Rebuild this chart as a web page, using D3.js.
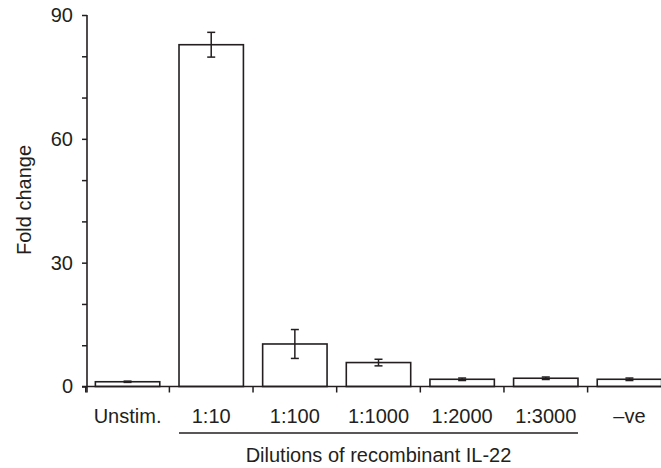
<!DOCTYPE html>
<html>
<head>
<meta charset="utf-8">
<script src="https://cdn.jsdelivr.net/npm/d3@7"></script>
<style>
  body { margin: 0; background: #fff; }
  svg { display: block; font-family: "Liberation Sans", Arial, Helvetica, sans-serif; }
</style>
</head>
<body>
<svg id="chart" width="661" height="468"></svg>
<script>
// Data
const categories = ['Unstim.', '1:10', '1:100', '1:1000', '1:2000', '1:3000', '\u2013ve'];
const foldChange = [1.15, 82.8, 10.3, 5.8, 1.75, 2.0, 1.75];
const errors = [0.15, 3.0, 3.5, 0.8, 0.3, 0.3, 0.3];
const yTicks = [0, 10, 20, 30, 40, 50, 60, 70, 80, 90];
const yLabelTicks = [0, 30, 60, 90];
const groupedCats = ['1:10', '1:3000'];

const WIDTH = 661, HEIGHT = 468;
const MARGIN = { left: 87, top: 15, bottom: 81.5, right: -9 };
const INK = '#231f20';
const FONT = 20;

const svg = d3.select('#chart');

// Scales
const xScale = d3.scaleBand()
  .domain(categories)
  .range([MARGIN.left, WIDTH - MARGIN.right])
  .paddingInner(0.23)
  .paddingOuter(0.1);

const yScale = d3.scaleLinear()
  .domain([0, 90])
  .range([HEIGHT - MARGIN.bottom, MARGIN.top]);

const step = xScale.step();
const x0 = MARGIN.left;

// Bars
svg.append('g').selectAll('rect')
  .data(categories)
  .join('rect')
  .attr('x', d => xScale(d))
  .attr('y', (d, i) => yScale(foldChange[i]))
  .attr('width', xScale.bandwidth())
  .attr('height', (d, i) => yScale(0) - yScale(foldChange[i]))
  .attr('fill', '#fff')
  .attr('stroke', INK)
  .attr('stroke-width', 1.6);

// Error bars
const eb = svg.append('g').attr('stroke', INK).attr('stroke-width', 1.5);
categories.forEach((c, i) => {
  const cx = xScale(c) + xScale.bandwidth() / 2;
  const hi = yScale(foldChange[i] + errors[i]);
  const lo = yScale(foldChange[i] - errors[i]);
  eb.append('line').attr('x1', cx).attr('x2', cx).attr('y1', hi).attr('y2', lo);
  eb.append('line').attr('x1', cx - 4).attr('x2', cx + 4).attr('y1', hi).attr('y2', hi);
  eb.append('line').attr('x1', cx - 4).attr('x2', cx + 4).attr('y1', lo).attr('y2', lo);
});

// Y axis
const yAxis = d3.axisLeft(yScale)
  .tickValues(yTicks)
  .tickSize(5)
  .tickPadding(9)
  .tickFormat(d => yLabelTicks.includes(d) ? d : '');

const yg = svg.append('g')
  .attr('transform', `translate(${MARGIN.left}, 0)`)
  .call(yAxis);
yg.select('.domain').remove();
yg.selectAll('line').attr('stroke', INK).attr('stroke-width', 1.5);
yg.selectAll('text').attr('fill', INK).attr('font-size', FONT).attr('font-family', null);

svg.append('line')
  .attr('x1', x0).attr('x2', x0)
  .attr('y1', MARGIN.top).attr('y2', yScale(0) + 6)
  .attr('stroke', INK).attr('stroke-width', 1.6);

// X axis line and boundary ticks
svg.append('line')
  .attr('x1', x0 - 5).attr('x2', WIDTH)
  .attr('y1', yScale(0)).attr('y2', yScale(0))
  .attr('stroke', INK).attr('stroke-width', 1.6);

svg.append('g').selectAll('line')
  .data(categories)
  .join('line')
  .attr('x1', d => xScale(d) - step * xScale.paddingInner() / 2)
  .attr('x2', d => xScale(d) - step * xScale.paddingInner() / 2)
  .attr('y1', yScale(0))
  .attr('y2', yScale(0) + 6)
  .attr('stroke', INK)
  .attr('stroke-width', 1.5);

// Category labels
svg.append('g').selectAll('text')
  .data(categories)
  .join('text')
  .attr('x', d => xScale(d) + xScale.bandwidth() / 2)
  .attr('y', 423)
  .attr('text-anchor', 'middle')
  .attr('font-size', FONT)
  .attr('fill', INK)
  .text(d => d);

// Grouping line under the dilution labels
svg.append('line')
  .attr('x1', xScale(groupedCats[0]))
  .attr('x2', xScale(groupedCats[1]) + xScale.bandwidth())
  .attr('y1', 433).attr('y2', 433)
  .attr('stroke', INK).attr('stroke-width', 1.5);

svg.append('text')
  .attr('x', (xScale(groupedCats[0]) + xScale(groupedCats[1]) + xScale.bandwidth()) / 2)
  .attr('y', 462)
  .attr('text-anchor', 'middle')
  .attr('font-size', FONT)
  .attr('fill', INK)
  .text('Dilutions of recombinant IL-22');

// Y axis title
svg.append('text')
  .attr('transform', `translate(31, 200) rotate(-90)`)
  .attr('text-anchor', 'middle')
  .attr('font-size', FONT)
  .attr('fill', INK)
  .text('Fold change');
</script>
</body>
</html>
